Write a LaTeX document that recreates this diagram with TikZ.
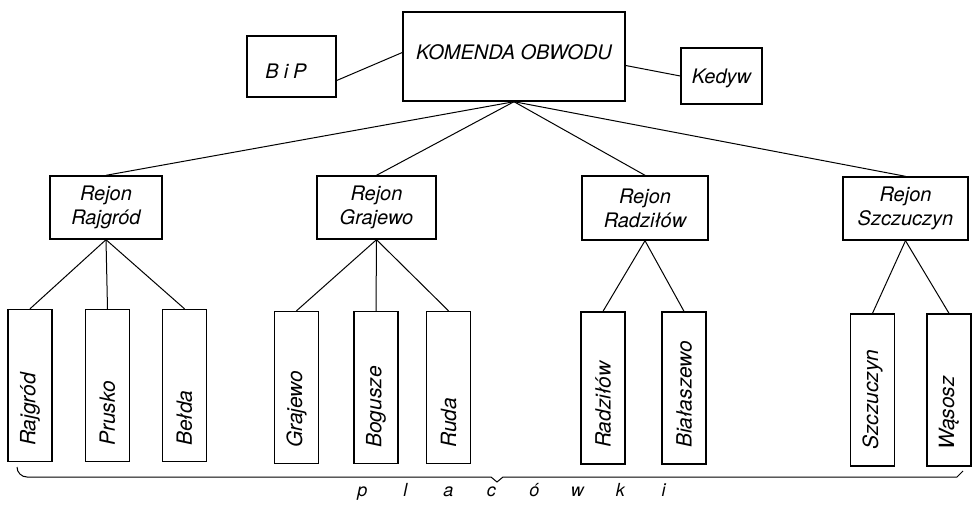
\documentclass[tikz,border=0pt]{standalone}
\usepackage{fontspec}
\setmainfont{TeX Gyre Heros}
\usetikzlibrary{calc}
\newcommand{\lsp}[1]{\makebox[43pt]{#1}}
\begin{document}
\begin{tikzpicture}[x=1pt,y=-1pt,
  box/.style={draw, line width=1.4pt, inner sep=0pt},
  txt/.style={inner sep=0pt, font=\fontsize{20}{24}\selectfont\itshape, align=center},
  leafbox/.style={box, minimum width=44pt, minimum height=152pt},
  leaftxt/.style={inner sep=0pt, font=\fontsize{21}{24}\selectfont\itshape, rotate=90, anchor=west},
  link/.style={line width=1pt}]
\useasboundingbox (0,0) rectangle (975,507);
% top level
\node[box, minimum width=222pt, minimum height=89pt] (kom) at (514,56.5) {};
\node[txt] (komt) at (514,52) {KOMENDA OBWODU};
\node[box, minimum width=89pt, minimum height=61pt] (bip) at (291.5,66.5) {};
\node[txt] (bipt) at (286,71) {B\hspace{5pt}i\hspace{5pt}P};
\node[box, minimum width=81pt, minimum height=56pt] (ked) at (721.5,76) {};
\node[txt] (kedt) at (721.5,78) {Kedyw};
% regions
\node[box, txt, minimum width=112pt, minimum height=63pt] (r1) at (106,207.5) {Rejon\\Rajgród};
\node[box, txt, minimum width=119pt, minimum height=63pt] (r2) at (376.5,207.5) {Rejon\\Grajewo};
\node[box, txt, minimum width=126pt, minimum height=64pt] (r3) at (645,208) {Rejon\\Radziłów};
\node[box, txt, minimum width=125pt, minimum height=63pt] (r4) at (905.5,208.5) {Rejon\\Szczuczyn};
% leaves
\node[leafbox] (l1) at (30,385.5) {};
\node[leafbox] (l2) at (107.5,385.5) {};
\node[leafbox] (l3) at (184.5,385.5) {};
\node[leafbox] (l4) at (296.5,387.5) {};
\node[leafbox] (l5) at (376,387.5) {};
\node[leafbox] (l6) at (448.5,387.5) {};
\node[leafbox] (l7) at (603,388) {};
\node[leafbox] (l8) at (684,388) {};
\node[leafbox] (l9) at (872.5,390) {};
\node[leafbox] (l10) at (949,390) {};
\node[leaftxt] (t1) at (30,446) {Rajgród};
\node[leaftxt] (t2) at (107.5,446) {Prusko};
\node[leaftxt] (t3) at (184.5,446) {Bełda};
\node[leaftxt] (t4) at (296.5,448) {Grajewo};
\node[leaftxt] (t5) at (376,448) {Bogusze};
\node[leaftxt] (t6) at (448.5,448) {Ruda};
\node[leaftxt] (t7) at (603,448) {Radziłów};
\node[leaftxt] (t8) at (684,448) {Białaszewo};
\node[leaftxt] (t9) at (872.5,450) {Szczuczyn};
\node[leaftxt] (t10) at (949,450) {Wąsosz};
% connectors
\draw[link] ($(bip.east)+(0,14)$) -- ($(kom.west)+(0,-4)$);
\draw[link] ($(kom.east)+(0,9)$) -- (ked.west);
\foreach \r in {r1,r2,r3,r4} \draw[link] (kom.south) -- (\r.north);
\foreach \l in {l1,l2,l3} \draw[link] (r1.south) -- (\l.north);
\foreach \l in {l4,l5,l6} \draw[link] (r2.south) -- (\l.north);
\foreach \l in {l7,l8} \draw[link] (r3.south) -- (\l.north);
\foreach \l in {l9,l10} \draw[link] (r4.south) -- (\l.north);
% brace
\draw[link] (17,467) to[out=-90,in=180] (27,477) -- (491,477) -- (497,482) -- (503,477) -- (957,477) -- (963,471);
\node[inner sep=0pt, font=\fontsize{18}{20}\selectfont\itshape] (plac) at (513,492)
  {\lsp{p}\lsp{l}\lsp{a}\lsp{c}\lsp{ó}\lsp{w}\lsp{k}\lsp{i}};
\end{tikzpicture}
\end{document}
